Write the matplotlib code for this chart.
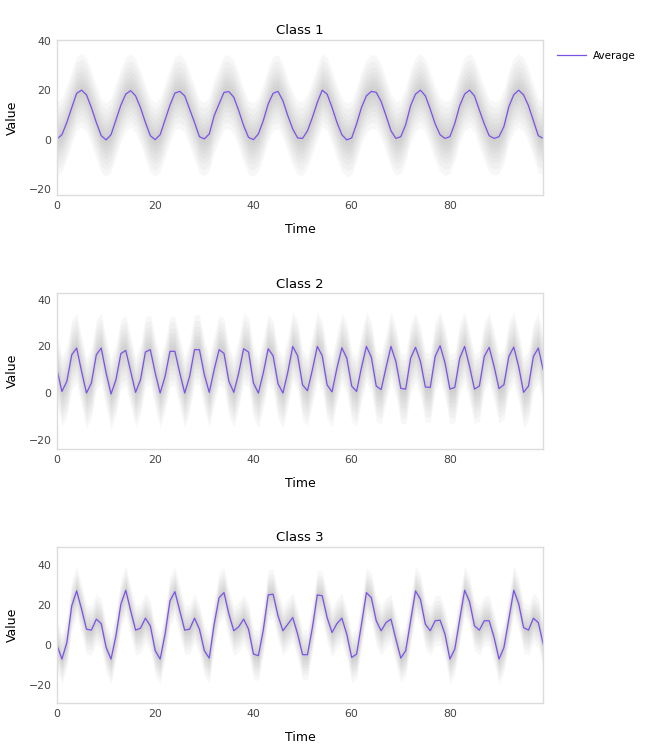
import numpy as np
import matplotlib.pyplot as plt

plt.rcParams['font.family'] = ['DejaVu Sans']

# Average curves (time 0..99)
time = np.arange(100)

avg_class1 = [0.3, 2, 7, 13, 18.8, 20.1, 18.2, 13, 7, 1.6,
              -0.1, 2, 8, 14, 18.5, 19.9, 17.8, 13, 7, 1.6,
              0, 2, 8, 14, 18.9, 19.6, 17.8, 12.4, 7, 1.2,
              0.3, 2.3, 9.7, 14.5, 19.2, 19.5, 17.2, 11.8, 5.7, 0.9,
              0, 2.3, 7.7, 14.5, 18.8, 19.6, 15.8, 9.7, 4.3, 0.7,
              0.5, 3.6, 9, 15.1, 20.1, 18.5, 13.1, 7, 2, -0.1,
              0.7, 6.4, 13.1, 17.8, 19.6, 19.2, 15.5, 9.7, 3.6, 0.5,
              1.2, 6.1, 13.8, 18.5, 20.1, 17.8, 12.4, 6.4, 2, 0.5,
              1.2, 6.6, 13.8, 18.5, 20.1, 17.8, 12, 6.4, 1.6, 0.5,
              1.2, 5.3, 13.4, 18.2, 20.1, 18.2, 13.8, 7.7, 1.6, 0.5]

avg_class2 = [10, 0.7, 5, 16.4, 19.3, 9.3, 0, 4.3, 16.4, 19.3,
              8.6, -0.4, 5.7, 16.9, 18.3, 9.3, 0.3, 5.7, 17.6, 18.6,
              8.6, 0, 7.1, 17.9, 17.9, 8.6, 0, 7.1, 18.6, 18.6,
              7.9, 0.3, 10, 18.6, 17, 5, 0.3, 8.6, 19, 17.6,
              4.3, 0, 8.6, 19, 16, 4, 0, 9, 20, 16,
              3.5, 1, 10, 20, 16, 3.5, 0.5, 10.7, 19.4, 15,
              3, 0.7, 11, 20, 15.4, 3, 1.5, 11, 20, 13.5,
              2, 1.7, 15, 19.6, 13.6, 2.6, 2.4, 15.7, 20.3, 13,
              1.7, 2.4, 15, 20, 11.4, 1.7, 3, 15.7, 19.6, 11.4,
              1.9, 3.6, 15.7, 19.7, 11.4, 0.3, 3, 15.7, 19.3, 10]

avg_class3 = [0, -7, 1.3, 19.7, 27.2, 18, 8, 7.5, 13, 10.8,
              -1.2, -7, 4.7, 20.5, 27.5, 17.2, 7.5, 8.5, 13.5, 9.7,
              -2.8, -7, 5.5, 22.2, 26.8, 17.2, 7.5, 8, 13.5, 8,
              -2.8, -6.5, 10.5, 23.8, 26.3, 15.5, 7.2, 9.2, 13, 8,
              -4.5, -5.3, 7.5, 25.2, 25.5, 14.7, 7.2, 10.5, 13.8, 5.5,
              -4.8, -4.8, 8.8, 25.2, 24.7, 13.8, 6.3, 10.8, 13.5, 5.5,
              -6.2, -4.5, 10.5, 26.3, 23.8, 12.2, 7.2, 11.3, 13, 3,
              -6.5, -2.8, 12.2, 27.2, 23, 10.5, 7.2, 12.2, 12.5, 5.5,
              -7, -2, 13, 27.5, 21.8, 9.7, 7.5, 12.2, 12.2, 3.8,
              -7, -1.2, 13, 27.5, 20.8, 8.8, 7.5, 13.5, 11.3, 0.5]

# approximate half-widths of the grey sample cloud around the average
spread_class1 = [1.5, 3, 4.5, 6, 8, 10, 12.5, 15]
spread_class2 = [1.5, 3, 4.5, 6, 8, 10, 12.5, 15]
spread_class3 = [1.5, 2.5, 3.5, 5, 6.5, 8, 10, 12.5]

titles = ['Class 1', 'Class 2', 'Class 3']
y_ranges = [(-22.5, 40.5), (-24, 42.8), (-29, 49.2)]
y_ticks = [[-20, 0, 20, 40], [-20, 0, 20, 40], [-20, 0, 20, 40]]
x_ticks = [0, 20, 40, 60, 80]

avg_color = '#7b52e6'
text_color = '#444444'
frame_color = '#dcdcdc'

fig = plt.figure(figsize=(6.5, 7.5), dpi=100)
# axes boxes in figure fractions [left, bottom, width, height]
boxes = [[0.0877, 0.740, 0.748, 0.2067],
         [0.0877, 0.4013, 0.748, 0.2077],
         [0.0877, 0.0627, 0.748, 0.208]]

averages = [avg_class1, avg_class2, avg_class3]
spreads = [spread_class1, spread_class2, spread_class3]

for i in range(3):
    ax = fig.add_axes(boxes[i])
    avg = np.array(averages[i])
    # layered grey cloud standing in for the individual sample traces
    for s in spreads[i]:
        ax.fill_between(time, avg - s, avg + s, color='#a0a0a0', alpha=0.075,
                        linewidth=0)
    line, = ax.plot(time, avg, color=avg_color, linewidth=0.9, label='Average')

    ax.set_xlim(0, 99)
    ax.set_ylim(*y_ranges[i])
    ax.set_xticks(x_ticks)
    ax.set_yticks(y_ticks[i])
    ax.tick_params(length=0, labelsize=7.8, colors=text_color, pad=4)
    for sp in ax.spines.values():
        sp.set_color(frame_color)
        sp.set_linewidth(1.0)
    ax.set_title(titles[i], fontsize=9.5, color='black', pad=4)
    ax.set_xlabel('Time', fontsize=9, color='black', labelpad=9)
    ax.set_ylabel('Value', fontsize=9, color='black', labelpad=7)

    if i == 0:
        fig.legend(handles=[line], labels=['Average'], loc='upper left',
                   bbox_to_anchor=(0.843, 0.945), frameon=False,
                   fontsize=7.5, handlelength=2.8, handletextpad=0.6)

fig.savefig('out.png', dpi=100)
